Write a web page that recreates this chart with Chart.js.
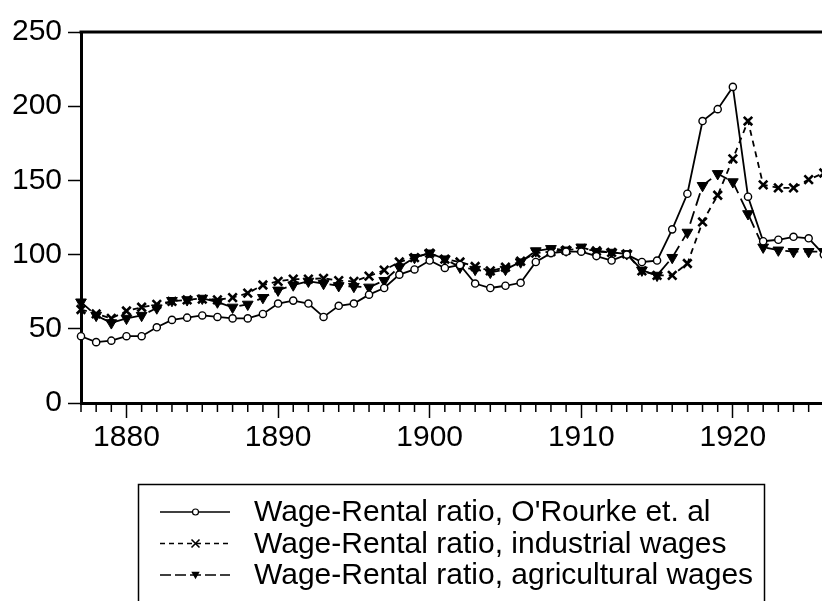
<!DOCTYPE html>
<html><head><meta charset="utf-8">
<script src="https://cdn.jsdelivr.net/npm/chart.js@4/dist/chart.umd.min.js"></script>
<style>html,body{margin:0;padding:0;background:#fff;}#wrap{width:822px;height:601px;}</style>
</head><body><div id="wrap"><canvas id="c" width="822" height="601"></canvas></div>
<script>
const years = [1877,1878,1879,1880,1881,1882,1883,1884,1885,1886,1887,1888,1889,1890,1891,1892,1893,1894,1895,1896,1897,1898,1899,1900,1901,1902,1903,1904,1905,1906,1907,1908,1909,1910,1911,1912,1913,1914,1915,1916,1917,1918,1919,1920,1921,1922,1923,1924,1925,1926];
const orourke = [45,41,42,45,45,51,56,57.5,59,58,57,57,60,67,69,67,58,65.5,67,73,77.5,86.5,90,96,91,93,80.5,77.5,79,81,95,101,102,102,99,96,100,95,96,117,141,190,198,213,139,109,110,112,111,100];
const industrial = [63,60,57,62,64.5,66.5,68.5,69.5,70,69.5,71,74,79.5,82,83.5,83.5,84,82.5,82,85.5,89.5,95,98,101,97,95,92,89,91.5,95.5,101,102,103,104,102.5,101.5,100.5,89,86,86,94,122,140,164.5,190,147,145,145,150.5,155];
const agricultural = [68,59,54,57,59,64,69,69.5,70.5,68,64.5,66.5,71,76,79.5,82,80.5,79,78.5,78,82.5,91.5,98,101,97,91.5,90,88,90,95,102.5,104,103,105,102,101.5,100.5,89.5,86,98,115,146.5,154.5,149,127.5,105,103,102,102,102];
const seriesLabels = ["Wage-Rental ratio, O'Rourke et. al","Wage-Rental ratio, industrial wages","Wage-Rental ratio, agricultural wages"];
const yTicks = [0,50,100,150,200,250];
const xMajorTicks = [1880,1890,1900,1910,1920];

const FONT = "'Liberation Sans', Arial, sans-serif";
const pts = arr => years.map((y,i)=>({x:y,y:arr[i]}));

const styles = [
  {borderDash:[], pointStyle:'circle', pointRadius:3.6, pointBackgroundColor:'#fff', pointBorderWidth:1.4, lr:3},
  {borderDash:[6,5], pointStyle:'crossRot', pointRadius:6, pointBackgroundColor:'#000', pointBorderWidth:2.6, lr:4},
  {borderDash:[13,6], pointStyle:'triangle', pointRadius:6.2, pointBackgroundColor:'#000', pointBorderWidth:1, lr:4.2}
];
const series = [orourke, industrial, agricultural];

function drawMarker(ctx, style, x, y, r){
  ctx.save();
  ctx.setLineDash([]);
  ctx.strokeStyle='#000';
  if(style==='circle'){
    ctx.fillStyle='#fff'; ctx.lineWidth=1.2;
    ctx.beginPath(); ctx.arc(x,y,r,0,Math.PI*2); ctx.fill(); ctx.stroke();
  } else if(style==='crossRot'){
    ctx.lineWidth=1.6;
    ctx.beginPath(); ctx.moveTo(x-r,y-r); ctx.lineTo(x+r,y+r); ctx.moveTo(x+r,y-r); ctx.lineTo(x-r,y+r); ctx.stroke();
  } else {
    ctx.fillStyle='#000';
    ctx.beginPath(); ctx.moveTo(x-r,y-r*0.8); ctx.lineTo(x+r,y-r*0.8); ctx.lineTo(x,y+r); ctx.closePath(); ctx.fill();
  }
  ctx.restore();
}

const decor = {
  id:'decor',
  afterDraw(chart){
    const {ctx, chartArea:a, scales:{x}} = chart;
    ctx.save();
    ctx.strokeStyle='#000';
    ctx.lineWidth=1.5;
    for(let yr=Math.ceil(x.min); yr<=x.max; yr++){
      if(xMajorTicks.includes(yr)) continue;
      const px = x.getPixelForValue(yr);
      ctx.beginPath(); ctx.moveTo(px,a.bottom); ctx.lineTo(px,a.bottom+9); ctx.stroke();
    }
    ctx.lineWidth=3;
    ctx.beginPath(); ctx.moveTo(a.left-1.5,a.top); ctx.lineTo(a.right+2,a.top); ctx.stroke();
    ctx.lineWidth=1.5;
    ctx.strokeRect(138.5,484.5,626,140);
    const rowY=[512,543.5,575];
    ctx.font = "30px "+FONT;
    ctx.fillStyle='#000';
    ctx.textBaseline='middle';
    ctx.textAlign='left';
    for(let i=0;i<3;i++){
      const y=rowY[i];
      ctx.lineWidth=1.5;
      ctx.setLineDash(i===0?[]:(i===1?[5,4]:[11,4]));
      ctx.beginPath(); ctx.moveTo(160,y); ctx.lineTo(230,y); ctx.stroke();
      ctx.setLineDash([]);
      drawMarker(ctx, styles[i].pointStyle, 195.5, y, styles[i].lr);
      ctx.fillText(seriesLabels[i], 254, y+1);
    }
    ctx.restore();
  }
};

new Chart(document.getElementById('c'), {
  type:'line',
  data:{datasets: series.map((s,i)=>({
    label: seriesLabels[i],
    data: pts(s),
    borderColor:'#000',
    borderWidth:1.8,
    borderDash: styles[i].borderDash,
    pointStyle: styles[i].pointStyle,
    pointRadius: styles[i].pointRadius,
    pointRotation: i===2?180:0,
    pointBackgroundColor: styles[i].pointBackgroundColor,
    pointBorderColor:'#000',
    pointBorderWidth: styles[i].pointBorderWidth,
    tension:0,
    clip:false,
    order: i
  }))},
  options:{
    responsive:false, animation:false, devicePixelRatio:1,
    layout:{autoPadding:false, padding:{top:32,left:0,right:0,bottom:0}},
    plugins:{legend:{display:false}, tooltip:{enabled:false}},
    scales:{
      x:{type:'linear', min:1877, max:1925.88,
        afterBuildTicks: s=>{ s.ticks = xMajorTicks.map(v=>({value:v})); },
        afterFit: s=>{ s.height = 198; },
        grid:{drawOnChartArea:false, drawTicks:true, tickLength:15, tickColor:'#000', tickWidth:1.5},
        border:{display:true, color:'#000', width:3},
        ticks:{color:'#000', font:{family:FONT,size:30}, padding:2, maxRotation:0, autoSkip:false, callback:v=>String(v)}
      },
      y:{min:0, max:250,
        afterBuildTicks: s=>{ s.ticks = yTicks.map(v=>({value:v})); },
        afterFit: s=>{ s.width = 81; },
        grid:{drawOnChartArea:false, drawTicks:true, tickLength:13, tickColor:'#000', tickWidth:1.5},
        border:{display:true, color:'#000', width:3},
        ticks:{color:'#000', font:{family:FONT,size:30}, padding:6}
      }
    }
  },
  plugins:[decor]
});
</script></body></html>
